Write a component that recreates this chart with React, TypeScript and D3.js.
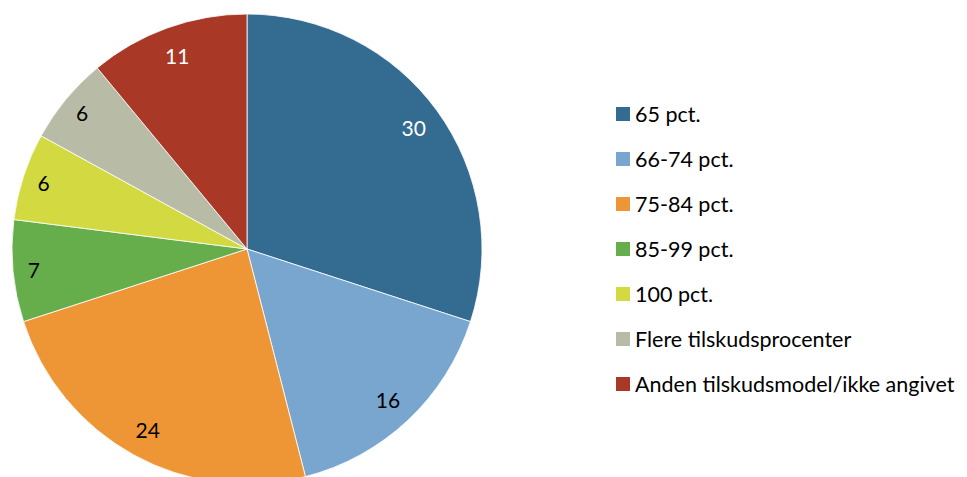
import React from 'react';
import * as d3 from 'd3';

const categories = [
  '65 pct.',
  '66-74 pct.',
  '75-84 pct.',
  '85-99 pct.',
  '100 pct.',
  'Flere tilskudsprocenter',
  'Anden tilskudsmodel/ikke angivet',
];
const values = [30, 16, 24, 7, 6, 6, 11];
const colors = ['#346b91', '#78a6cf', '#ee9535', '#66ad4c', '#d3da41', '#b8bca6', '#a93826'];
const labelColors = ['#fff', '#000', '#000', '#000', '#000', '#000', '#fff'];

const App = () => {
  const width = 967;
  const height = 477;
  const cx = 247;
  const cy = 249;
  const radius = 235;
  const font = 'Lato, "Open Sans", sans-serif';

  // keep original order, start at 12 o'clock, clockwise
  const pie = d3.pie<number>().sort(null).value((d) => d);
  const arc = d3.arc<d3.PieArcDatum<number>>().innerRadius(0).outerRadius(radius);
  // narrow slices get their label pushed a bit further out, like Excel does
  const labelR = (d: d3.PieArcDatum<number>) => (d.data < 10 ? 214 : 206);
  const arcs = pie(values);

  const legendY = d3.scalePoint<string>().domain(categories).range([113, 383]);

  return (
    <svg width={width} height={height} style={{ position: 'absolute', left: 0, top: 0 }}>
      <g transform={`translate(${cx},${cy})`}>
        {arcs.map((d, i) => (
          <path key={i} d={arc(d) ?? ''} fill={colors[i]} stroke="#fff" strokeWidth={0.8} />
        ))}
        {arcs.map((d, i) => {
          const a = (d.startAngle + d.endAngle) / 2;
          const r = labelR(d);
          const x = r * Math.sin(a);
          const y = -r * Math.cos(a);
          return (
            <text
              key={i}
              x={x}
              y={y}
              textAnchor="middle"
              dominantBaseline="central"
              fontFamily={font}
              fontSize={21}
              fill={labelColors[i]}
            >
              {d.data}
            </text>
          );
        })}
      </g>
      <g>
        {categories.map((c, i) => (
          <g key={c} transform={`translate(616,${legendY(c)})`}>
            <rect x={0} y={-6} width={14} height={14} fill={colors[i]} />
            <text x={19} y={1} dominantBaseline="central" fontFamily={font} fontSize={21.5} fill="#000">
              {c}
            </text>
          </g>
        ))}
      </g>
    </svg>
  );
};

export default App;
